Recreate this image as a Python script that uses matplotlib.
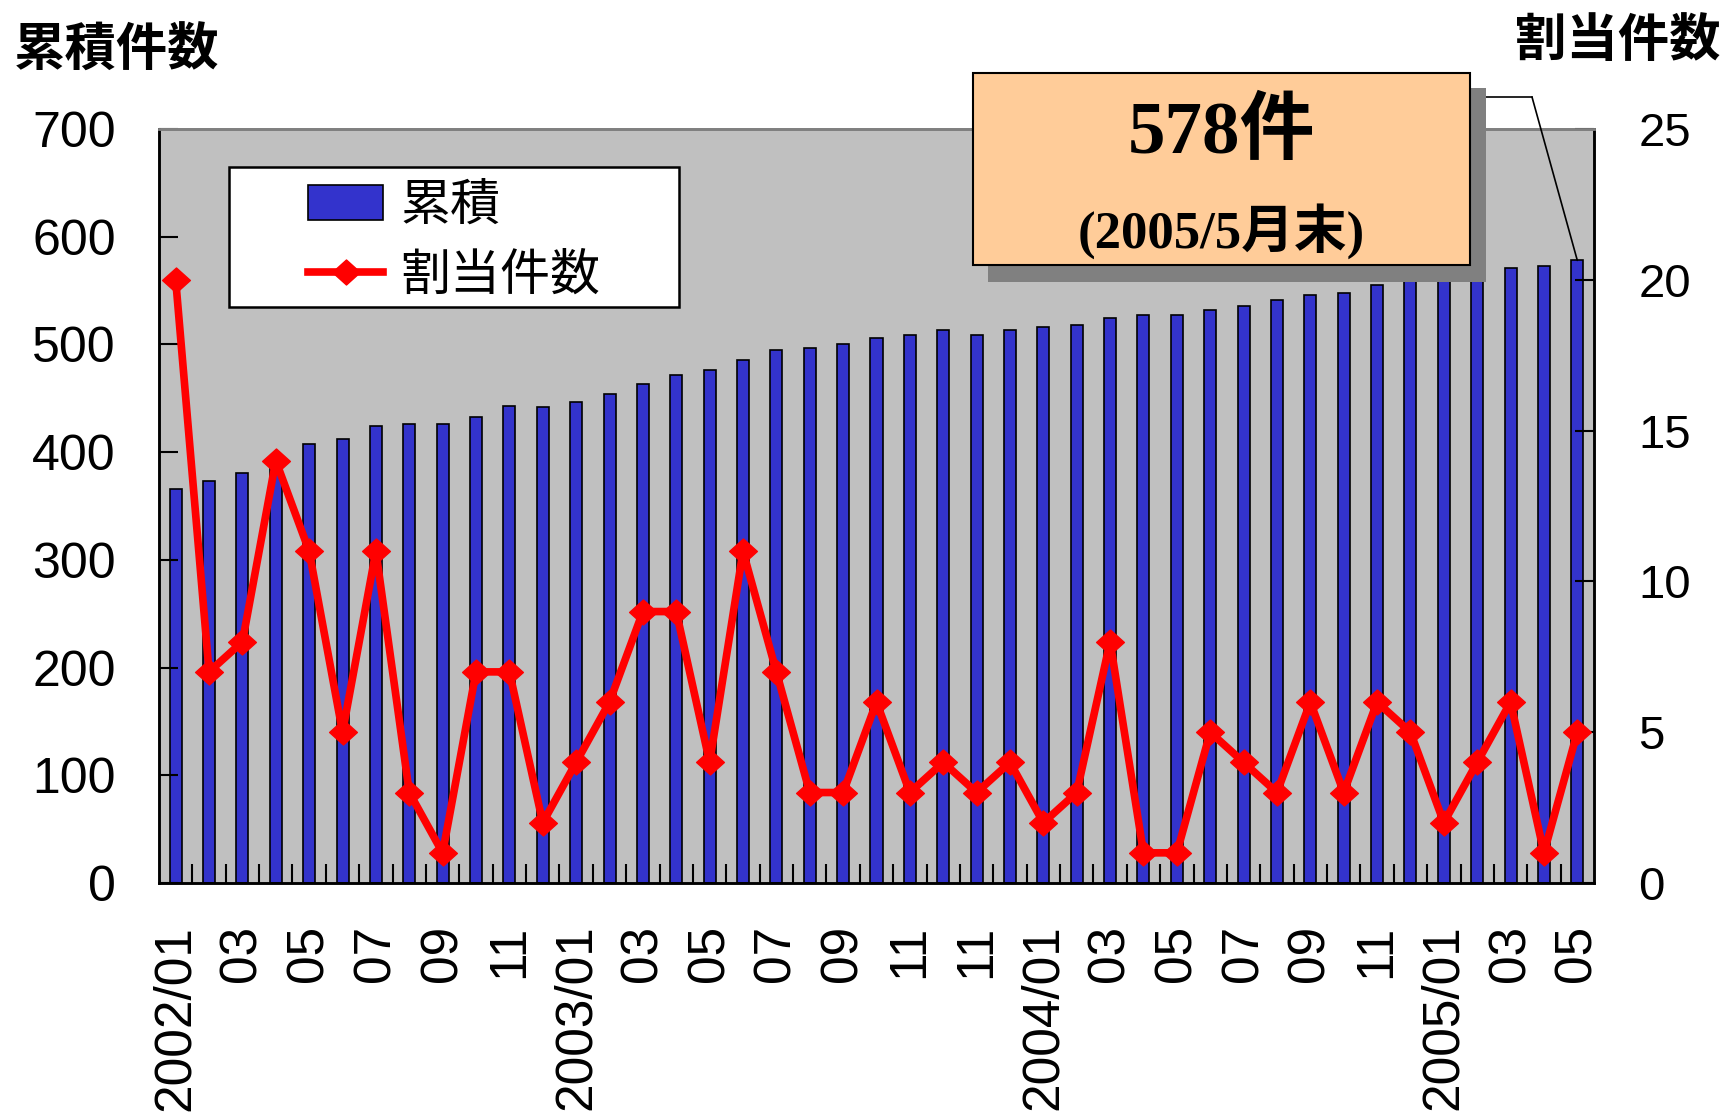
import matplotlib
matplotlib.use("Agg")
import matplotlib.pyplot as plt
import numpy as np
from matplotlib import font_manager
from matplotlib.patches import Rectangle
from matplotlib.path import Path

# ---- data ----
tick_labels = ["2002/01", "03", "05", "07", "09", "11",
               "2003/01", "03", "05", "07", "09", "11", "11",
               "2004/01", "03", "05", "07", "09", "11",
               "2005/01", "03", "05"]

cumulative = [366, 373, 381, 395, 408, 412, 424, 426, 426, 433, 443, 442,
              447, 454, 463, 472, 476, 486, 495, 497, 500, 506, 509, 513,
              509, 513, 516, 518, 525, 527, 527, 532, 536, 541, 546, 548,
              555, 562, 565, 568, 571, 573, 578]

allocated = [20, 7, 8, 14, 11, 5, 11, 3, 1, 7, 7, 2, 4, 6, 9, 9, 4, 11, 7, 3,
             3, 6, 3, 4, 3, 4, 2, 3, 8, 1, 1, 5, 4, 3, 6, 3, 6, 5, 2, 4, 6, 1, 5]

legend_labels = ["累積", "割当件数"]
callout_main = "578件"
callout_sub = "(2005/5月末)"

# ---- fonts ----
names = {f.name for f in font_manager.fontManager.ttflist}
narrow = "Liberation Sans Narrow" if "Liberation Sans Narrow" in names else "Liberation Sans"
jp = ["Noto Sans CJK JP", "DejaVu Sans"]
serif_jp = ["Liberation Serif", "Noto Sans CJK JP"]
plt.rcParams["font.family"] = jp

W, H = 1726, 1118
fig = plt.figure(figsize=(W / 100, H / 100), dpi=100)

ax1 = fig.add_axes([159 / W, 1 - 883 / H, 1435 / W, 754 / H])
ax1.set_facecolor("#C0C0C0")
x = np.arange(len(cumulative))
bars = ax1.bar(x, cumulative, width=0.36, color="#3333CC",
               edgecolor="black", linewidth=1.2, label=legend_labels[0])
ax1.set_xlim(-0.5, len(cumulative) - 0.5)
ax1.set_ylim(0, 700)
ax1.set_yticks(range(0, 701, 100))
ax1.tick_params(axis="y", direction="in", length=14, width=1.5, pad=31,
                labelsize=36, labelfontfamily=narrow)

ax1.set_xticks(x[::2])
ax1.set_xticklabels(tick_labels, rotation=90, fontsize=37,
                    fontfamily="Liberation Sans", va="top", ha="center")
ax1.tick_params(axis="x", which="major", length=0, pad=30)
ax1.set_xticks(np.arange(0.5, len(cumulative) - 1, 1), minor=True)
ax1.tick_params(axis="x", which="minor", direction="in", length=14, width=1.5)

ax2 = ax1.twinx()
diamond = Path([(-1, 0), (0, 0.9), (1, 0), (0, -0.9), (-1, 0)],
               [Path.MOVETO, Path.LINETO, Path.LINETO, Path.LINETO, Path.CLOSEPOLY])
line, = ax2.plot(x, allocated, color="#FF0000", linewidth=5.5, marker=diamond,
                 markersize=20, markeredgecolor="#FF0000", label=legend_labels[1])
ax2.set_ylim(0, 25)
ax2.set_yticks(range(0, 26, 5))
ax2.tick_params(axis="y", direction="in", length=14, width=1.5, pad=32,
                labelsize=34, labelfontfamily="Liberation Sans")

for a in (ax1, ax2):
    for s in ("left", "right", "bottom"):
        a.spines[s].set_color("black")
        a.spines[s].set_linewidth(1.8)
    a.spines["top"].set_color("#808080")
    a.spines["top"].set_linewidth(2)

# legend with a plain square frame
ax2.add_patch(Rectangle((229, H - 307), 450, 140, transform=None,
                        facecolor="white", edgecolor="black", linewidth=1.8, zorder=4))
leg = ax2.legend([bars, line], legend_labels, loc="upper left",
                 bbox_to_anchor=(308 / W, 1 - 180 / H), bbox_transform=fig.transFigure,
                 frameon=False, fontsize=36, borderpad=0, borderaxespad=0,
                 handlelength=1.5, handletextpad=0.35, labelspacing=0.36)
leg.set_zorder(5)

# titles
fig.text(14 / W, 1 - 24 / H, "累積件数", fontsize=37, fontweight="bold",
         ha="left", va="top")
fig.text(1720 / W, 1 - 14 / H, "割当件数", fontsize=37, fontweight="bold",
         ha="right", va="top")

# callout box with shadow
fig.patches.append(Rectangle((988, H - 282), 498, 194, transform=None,
                             facecolor="#808080", edgecolor="none", zorder=3))
fig.patches.append(Rectangle((973, H - 265), 497, 192, transform=None,
                             facecolor="#FFCC99", edgecolor="black", linewidth=1.5, zorder=4))
fig.text(1221 / W, 1 - 134 / H, callout_main, fontsize=54, fontweight="bold",
         family=serif_jp, ha="center", va="center", zorder=5)
fig.text(1221 / W, 1 - 231 / H, callout_sub, fontsize=38, fontweight="bold",
         family=serif_jp, ha="center", va="center", zorder=5)

# leader line from the callout to the last bar
fig.lines.append(plt.Line2D([1486, 1532], [H - 97, H - 97], transform=None,
                            color="black", linewidth=1.2))
ax2.annotate("", xy=(x[-1], cumulative[-1] * 25 / 700), xytext=(1532, H - 97),
             textcoords="figure pixels",
             arrowprops=dict(arrowstyle="-", color="black", linewidth=1.2,
                             shrinkA=0, shrinkB=0))

fig.savefig("out.png", dpi=100)
